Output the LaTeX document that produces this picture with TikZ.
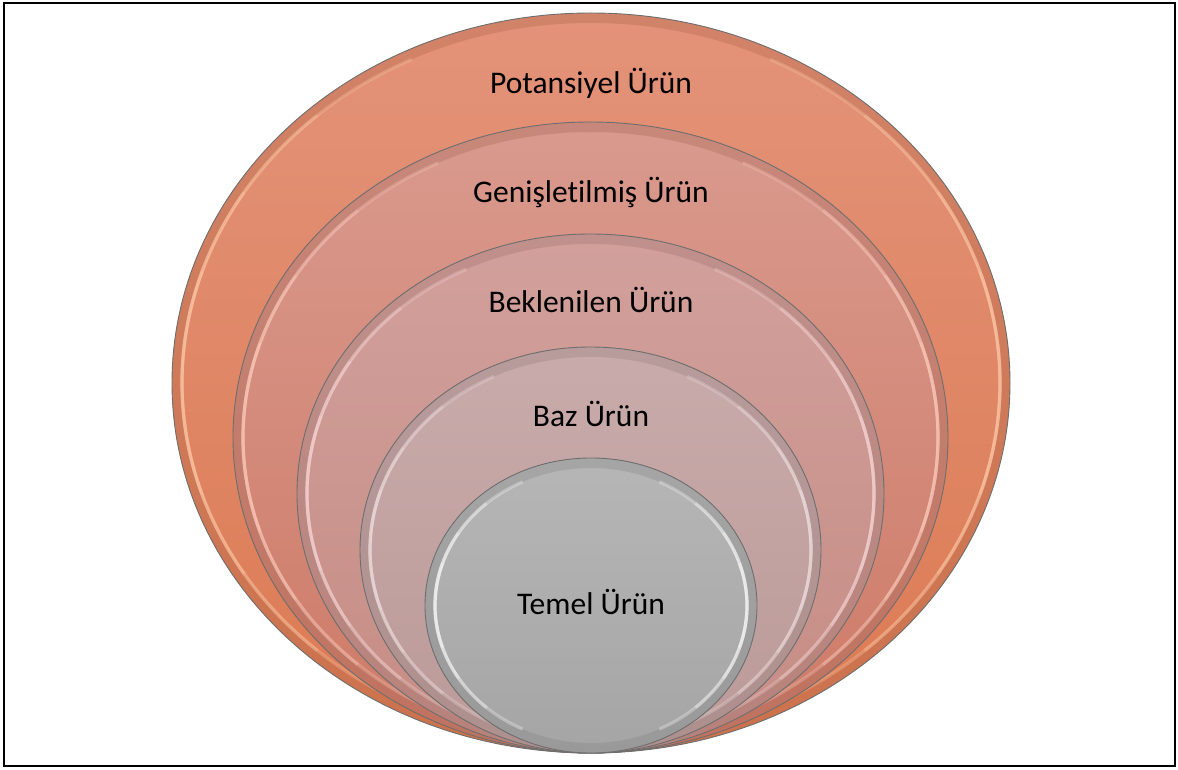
\documentclass[tikz,border=0pt]{standalone}
\usepackage{fontspec}
\setmainfont{Carlito}[Ligatures={NoCommon}]
\usetikzlibrary{shapes.geometric}

\definecolor{potTop}{HTML}{E3937A}\definecolor{potBot}{HTML}{DC7A52}\definecolor{potHi}{HTML}{FFCCAA}
\definecolor{genTop}{HTML}{D99A8E}\definecolor{genBot}{HTML}{CE7A66}\definecolor{genHi}{HTML}{FFCFC0}
\definecolor{bekTop}{HTML}{D2A09C}\definecolor{bekBot}{HTML}{C58C84}\definecolor{bekHi}{HTML}{FADADA}
\definecolor{bazTop}{HTML}{C9ABAB}\definecolor{bazBot}{HTML}{BB9A98}\definecolor{bazHi}{HTML}{F2E2E2}
\definecolor{temTop}{HTML}{B6B6B6}\definecolor{temBot}{HTML}{A5A5A5}\definecolor{temHi}{HTML}{FFFFFF}
\definecolor{rim}{HTML}{6E6E6E}

\tikzset{
  oval/.style={ellipse, inner sep=0pt, outer sep=0pt},
  rimline/.style={draw=rim, line width=0.9pt},
  lbl/.style={font=\fontsize{31.5}{37}\selectfont, text=black, inner sep=0pt, anchor=base},
  frame/.style={draw=black, line width=2pt}
}

% one bevelled layer: name, cx, cy, rx, ry, top colour, bottom colour, highlight colour
\newcommand{\bevellayer}[8]{%
  \node[oval, minimum width=2*#4, minimum height=2*#5,
        top color=#6, bottom color=#7] (#1) at (#2,#3) {};
  \begin{scope}
    \clip (#1.center) ellipse [x radius=#4, y radius=#5];
    \draw[#7!75!black, opacity=.28, line width=12]
      (#1.center) ellipse [x radius=#4-4, y radius=#5-4];
  \end{scope}
  \foreach \s in {64,48,32,18}{
    \draw[#8, opacity=.30, line width=3.2]
      (#1.center) ++(180-\s:{#4-10} and {#5-10})
      arc[start angle=180-\s, end angle=180+\s, x radius=#4-10, y radius=#5-10];
    \draw[#8, opacity=.30, line width=3.2]
      (#1.center) ++(-\s:{#4-10} and {#5-10})
      arc[start angle=-\s, end angle=\s, x radius=#4-10, y radius=#5-10];
  }
  \draw[rimline] (#1.center) ellipse [x radius=#4, y radius=#5];
}

\begin{document}
\begin{tikzpicture}[x=1pt, y=1pt]
  \useasboundingbox (0,0) rectangle (1178,769);
  \fill[white] (0,0) rectangle (1178,769);

  % nested layers, all resting on the same bottom point
  \bevellayer{potansiyel}{591}{386}{419}{370}{potTop}{potBot}{potHi}
  \bevellayer{genis}{590.5}{331.5}{357.5}{315.5}{genTop}{genBot}{genHi}
  \bevellayer{beklenilen}{590.5}{275.5}{293.5}{259.5}{bekTop}{bekBot}{bekHi}
  \bevellayer{baz}{590.5}{219}{230.5}{203}{bazTop}{bazBot}{bazHi}
  \bevellayer{temel}{591}{163.5}{166}{147.5}{temTop}{temBot}{temHi}

  % labels
  \node[lbl] (lPot) at (591,675) {Potansiyel Ürün};
  \node[lbl] (lGen) at (591,566) {Genişletilmiş Ürün};
  \node[lbl] (lBek) at (591,456) {Beklenilen Ürün};
  \node[lbl] (lBaz) at (591,342) {Baz Ürün};
  \node[lbl] (lTem) at (591,155) {Temel Ürün};

  % outer frame
  \draw[frame] (4,3) rectangle (1175,766);
\end{tikzpicture}
\end{document}
